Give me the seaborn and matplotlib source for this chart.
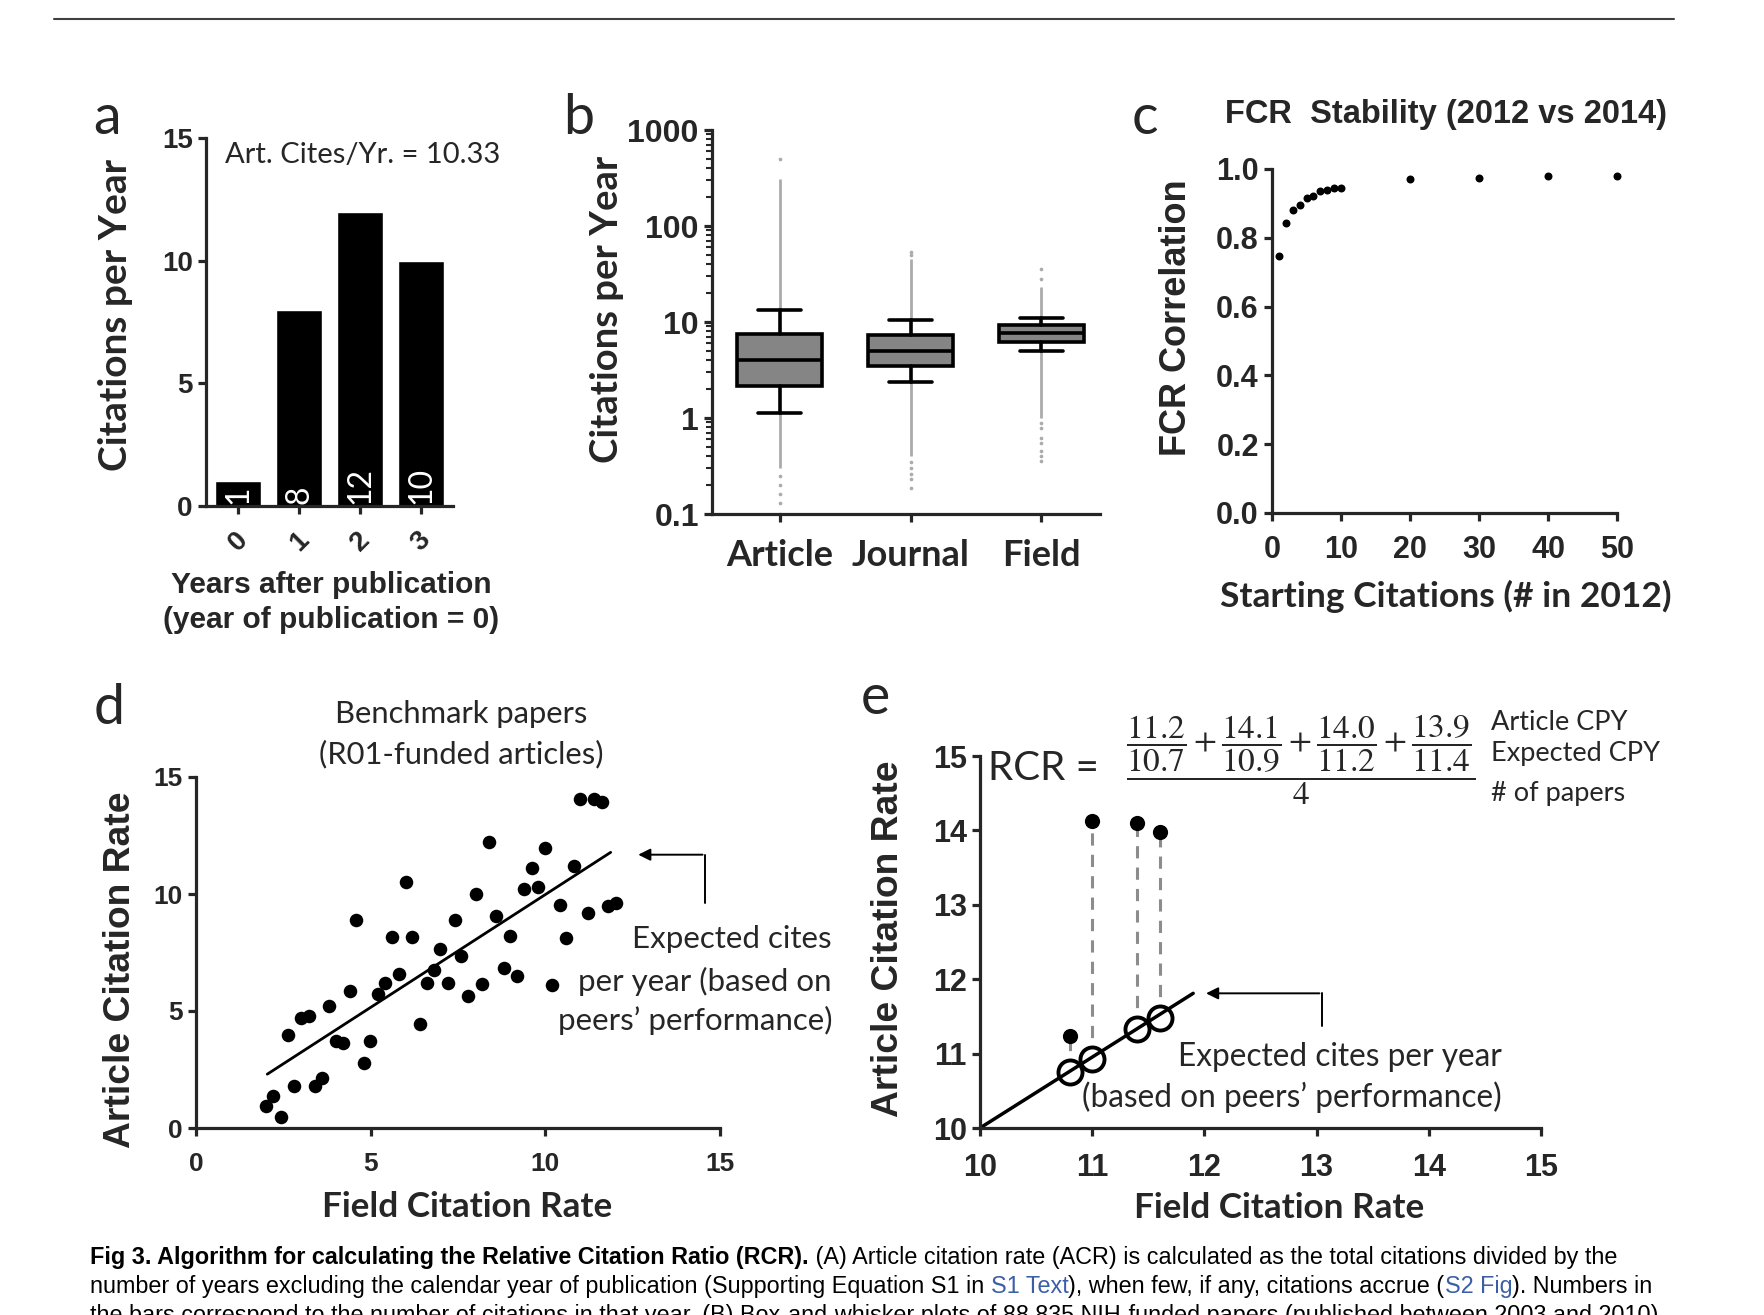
import matplotlib
matplotlib.use("Agg")
import matplotlib.pyplot as plt
from matplotlib.lines import Line2D
import seaborn as sns

W, H = 1764, 1315

# ---- panel a: citations per year of one article
years = ["0", "1", "2", "3"]
cites_per_year = [1, 8, 12, 10]
acr_label = "Art. Cites/Yr. = 10.33"

# ---- panel b: box-and-whisker summaries (log scale)
box_groups = ["Article", "Journal", "Field"]
box_whislo = [1.13, 2.37, 4.94]
box_q1 = [2.17, 3.44, 6.17]
box_med = [4.04, 4.94, 7.65]
box_q3 = [7.47, 7.24, 9.35]
box_whishi = [13.4, 10.5, 10.95]
dense_out_hi = [310, 45, 23]      # top of the dense run of outliers above the whisker
dense_out_lo = [0.3, 0.4, 1.0]    # bottom of the dense run below the whisker
sparse_out = [
    [503, 0.25, 0.2, 0.16, 0.13, 0.1],
    [50, 53, 0.35, 0.3, 0.26, 0.23, 0.187],
    [28, 35.4, 0.89, 0.79, 0.62, 0.55, 0.45, 0.4, 0.354],
]

# ---- panel c: FCR stability
start_cites = [1, 2, 3, 4, 5, 6, 7, 8, 9, 10, 20, 30, 40, 50]
fcr_corr = [0.748, 0.844, 0.880, 0.896, 0.916, 0.922, 0.935, 0.940, 0.946,
            0.946, 0.971, 0.974, 0.979, 0.979]

# ---- panel d: benchmark papers
fcr_bench = [1.99, 2.21, 2.43, 2.62, 2.81, 3.01, 3.23, 3.42, 3.61, 3.82, 4.00,
             4.22, 4.41, 4.59, 4.81, 4.99, 5.20, 5.40, 5.61, 5.80, 6.00, 6.19,
             6.41, 6.60, 6.80, 6.99, 7.21, 7.40, 7.60, 7.79, 8.01, 8.20, 8.40,
             8.59, 8.81, 9.00, 9.20, 9.39, 9.61, 9.80, 10.00, 10.19, 10.41,
             10.60, 10.81, 11.00, 11.21, 11.40, 11.61, 11.80, 12.01]
acr_bench = [0.92, 1.38, 0.48, 3.96, 1.78, 4.72, 4.77, 1.78, 2.12, 5.21, 3.73,
             3.65, 5.84, 8.90, 2.76, 3.73, 5.72, 6.21, 8.17, 6.56, 10.50, 8.17,
             4.46, 6.21, 6.75, 7.64, 6.18, 8.87, 7.36, 5.64, 9.98, 6.15, 12.24,
             9.06, 6.82, 8.21, 6.49, 10.20, 11.12, 10.32, 11.96, 6.10, 9.51,
             8.10, 11.21, 14.08, 9.17, 14.08, 13.93, 9.48, 9.63]
fit_x = [2.04, 11.87]
fit_y = [2.30, 11.78]

# ---- panel e: RCR example
fcr_e = [10.8, 11.0, 11.4, 11.6]
acr_e = [11.23, 14.13, 14.10, 13.98]
expected_e = [10.75, 10.93, 11.33, 11.48]
line_e_x = [10.0, 11.9]
line_e_y = [10.0, 11.81]

sns.set_style("ticks")
plt.rcParams["font.family"] = ["Liberation Sans", "DejaVu Sans"]
plt.rcParams["mathtext.fontset"] = "stix"

fig = plt.figure(figsize=(W / 100, H / 100), dpi=100)


def add_ax(l, t, r, b):
    return fig.add_axes([l / W, 1 - b / H, (r - l) / W, (b - t) / H])


def ftxt(x, y, s, **kw):
    kw.setdefault("ha", "center")
    kw.setdefault("va", "center")
    return fig.text(x / W, 1 - y / H, s, **kw)


def style(ax, size, lw=2.3, xpad=4):
    sns.despine(ax=ax)
    for s in ("left", "bottom"):
        ax.spines[s].set_linewidth(lw)
    ax.tick_params(which="major", width=lw, length=6, labelsize=size)
    ax.tick_params(axis="x", pad=xpad)
    for lab in ax.get_xticklabels() + ax.get_yticklabels():
        lab.set_fontweight("bold")
    ax.set_xlabel("")
    ax.set_ylabel("")
    ax.patch.set_alpha(0)


LATO = ["Lato", "DejaVu Sans"]

# header rule
fig.add_artist(Line2D([54 / W, 1674 / W], [1 - 19 / H, 1 - 19 / H], color="#404040", lw=1.5))

# ================= a
ax_a = add_ax(206, 138, 453, 506)
sns.barplot(x=years, y=cites_per_year, color="black", saturation=1, width=0.75, ax=ax_a)
ax_a.set_xlim(-0.53, 3.52)
ax_a.set_ylim(0, 15)
ax_a.set_yticks([0, 5, 10, 15])
for i, v in enumerate(cites_per_year):
    ax_a.text(i, 0.1, str(v), rotation=90, color="white", ha="center", va="bottom",
              fontsize=23, family=LATO)
style(ax_a, 20, xpad=9)
ax_a.set_xticklabels(years, rotation=45, fontweight="bold", fontsize=20)
ftxt(225, 155, acr_label, ha="left", family=LATO, size=21)
ftxt(116, 315, "Citations per Year", rotation=90, family=LATO, weight="bold", size=28)
ftxt(331, 585, "Years after publication", weight="bold", size=21.5)
ftxt(331, 620, "(year of publication = 0)", weight="bold", size=21.5)

# ================= b
ax_b = add_ax(712, 130, 1100, 514)
ax_b.set_yscale("log")
stats = [dict(label=g, whislo=lo, q1=a, med=m, q3=b, whishi=hi, fliers=[])
         for g, lo, a, m, b, hi in zip(box_groups, box_whislo, box_q1, box_med, box_q3, box_whishi)]
ax_b.vlines(range(3), box_whishi, dense_out_hi, color="#ababab", lw=2, zorder=1)
ax_b.vlines(range(3), box_whislo, dense_out_lo, color="#ababab", lw=2, zorder=1)
for i, vals in enumerate(sparse_out):
    ax_b.scatter([i] * len(vals), vals, s=7, color="#ababab", zorder=1, linewidths=0)
lp = dict(color="black", linewidth=2.6)
ax_b.bxp(stats, positions=[0, 1, 2], widths=0.65, capwidths=0.33, patch_artist=True,
         showfliers=False, boxprops=dict(facecolor="#858585", edgecolor="black", linewidth=2.6),
         medianprops=lp, whiskerprops=lp, capprops=lp)
ax_b.set_ylim(0.1, 1000)
ax_b.set_xlim(-0.52, 2.45)
ax_b.set_yticks([0.1, 1, 10, 100, 1000])
ax_b.set_yticklabels(["0.1", "1", "10", "100", "1000"])
ax_b.set_xticks([0, 1, 2])
style(ax_b, 23, xpad=12)
ax_b.set_xticklabels(box_groups, family=LATO, fontweight="bold", fontsize=26)
ax_b.tick_params(which="minor", width=1.5, length=4)
ftxt(607, 309, "Citations per Year", rotation=90, family=LATO, weight="bold", size=27.5)

# ================= c
ax_c = add_ax(1272, 169, 1617, 513)
sns.scatterplot(x=start_cites, y=fcr_corr, color="black", s=33, linewidth=0, ax=ax_c)
ax_c.collections[0].set_clip_on(False)
ax_c.set_xlim(0, 50)
ax_c.set_ylim(0, 1.0)
ax_c.set_xticks([0, 10, 20, 30, 40, 50])
ax_c.set_yticks([0, 0.2, 0.4, 0.6, 0.8, 1.0])
ax_c.set_yticklabels(["0.0", "0.2", "0.4", "0.6", "0.8", "1.0"])
style(ax_c, 22, xpad=10)
ftxt(1446, 115, "FCR  Stability (2012 vs 2014)", weight="bold", size=23.5)
ftxt(1176, 318, "FCR Correlation", rotation=90, weight="bold", size=26)
ftxt(1446, 596, "Starting Citations (# in 2012)", family=LATO, weight="bold", size=25.5)

# ================= d
ax_d = add_ax(196, 777, 720, 1128)
sns.scatterplot(x=fcr_bench, y=acr_bench, color="black", s=95, linewidth=0, ax=ax_d)
sns.lineplot(x=fit_x, y=fit_y, color="black", lw=2, ax=ax_d)
ax_d.set_xlim(0, 15)
ax_d.set_ylim(0, 15)
ax_d.set_xticks([0, 5, 10, 15])
ax_d.set_yticks([0, 5, 10, 15])
style(ax_d, 19, xpad=11)
ax_d.annotate("", xy=(12.58, 11.68), xytext=(14.58, 11.68), annotation_clip=False,
              arrowprops=dict(arrowstyle="-|>", color="black", lw=1.4, mutation_scale=18))
ax_d.plot([14.58, 14.58], [11.68, 9.6], color="black", lw=1.4, clip_on=False)
ftxt(461, 714, "Benchmark papers", family=LATO, size=22.3)
ftxt(461, 754, "(R01-funded articles)", family=LATO, size=22.3)
for yy, s in zip([939, 981, 1020], ["Expected cites", "per year (based on",
                                     "peers\u2019 performance)"]):
    ftxt(832, yy, s, ha="right", family=LATO, size=22.5)
ftxt(120, 970, "Article Citation Rate", rotation=90, weight="bold", size=26.8)
ftxt(467, 1207, "Field Citation Rate", family=LATO, weight="bold", size=25.3)

# ================= e
ax_e = add_ax(980, 756, 1541, 1128)
sns.lineplot(x=line_e_x, y=line_e_y, color="black", lw=2.5, ax=ax_e)
ax_e.vlines(fcr_e, expected_e, acr_e, colors="#8c8c8c", linestyles=(0, (4, 3)), lw=2.2, zorder=1)
sns.scatterplot(x=fcr_e, y=acr_e, color="black", s=120, linewidth=0, ax=ax_e)
sns.scatterplot(x=fcr_e, y=expected_e, color="white", s=300, linewidth=2.8, ax=ax_e)
ax_e.collections[-1].set_edgecolor("black")
ax_e.collections[-1].set_facecolor("white")
ax_e.set_xlim(10, 15)
ax_e.set_ylim(10, 15)
ax_e.set_xticks(range(10, 16))
ax_e.set_yticks(range(10, 16))
style(ax_e, 22, xpad=12)
ax_e.annotate("", xy=(11.99, 11.81), xytext=(13.05, 11.81), annotation_clip=False,
              arrowprops=dict(arrowstyle="-|>", color="black", lw=1.4, mutation_scale=18))
ax_e.plot([13.05, 13.05], [11.81, 11.37], color="black", lw=1.4, clip_on=False)
ftxt(1502, 1057, "Expected cites per year", ha="right", family=LATO, size=22.8)
ftxt(1502, 1097, "(based on peers\u2019 performance)", ha="right", family=LATO, size=22.8)
ftxt(889, 939, "Article Citation Rate", rotation=90, weight="bold", size=26.8)
ftxt(1279, 1208, "Field Citation Rate", family=LATO, weight="bold", size=25.3)

ftxt(988, 768, "RCR =", ha="left", family=LATO, size=29)
ftxt(1301, 785,
     r"$\dfrac{\dfrac{11.2}{10.7}+\dfrac{14.1}{10.9}+\dfrac{14.0}{11.2}+\dfrac{13.9}{11.4}}{4}$",
     va="baseline", size=24)
for yy, s in zip([723, 754, 793], ["Article CPY", "Expected CPY", "# of papers"]):
    ftxt(1491, yy, s, ha="left", family=LATO, size=19.5)

# panel letters
for x, y, s in [(107, 118, "a"), (579, 118, "b"), (1145, 118, "c"),
                (109, 709, "d"), (875, 698, "e")]:
    ftxt(x, y, s, family=LATO, size=40)

# caption
BLUE = "#3a5ea8"
caption = [
    (1264, [("Fig 3. Algorithm for calculating the Relative Citation Ratio (RCR).", "black", "bold"),
            (" (A) Article citation rate (ACR) is calculated as the total citations divided by the", "black", "normal")]),
    (1293, [("number of years excluding the calendar year of publication (Supporting Equation S1 in ", "black", "normal"),
            ("S1 Text", BLUE, "normal"),
            ("), when few, if any, citations accrue (", "black", "normal"),
            ("S2 Fig", BLUE, "normal"),
            ("). Numbers in", "black", "normal")]),
    (1322, [("the bars correspond to the number of citations in that year. (B) Box-and-whisker plots of 88,835 NIH-funded papers (published between 2003 and 2010)", "black", "normal")]),
]
renderer = fig.canvas.get_renderer()
for y, segs in caption:
    x = 90
    for s, col, wt in segs:
        t = ftxt(x, y, s, ha="left", va="baseline", color=col, weight=wt, size=16.8)
        x += t.get_window_extent(renderer).width

fig.savefig("out.png", dpi=100)
